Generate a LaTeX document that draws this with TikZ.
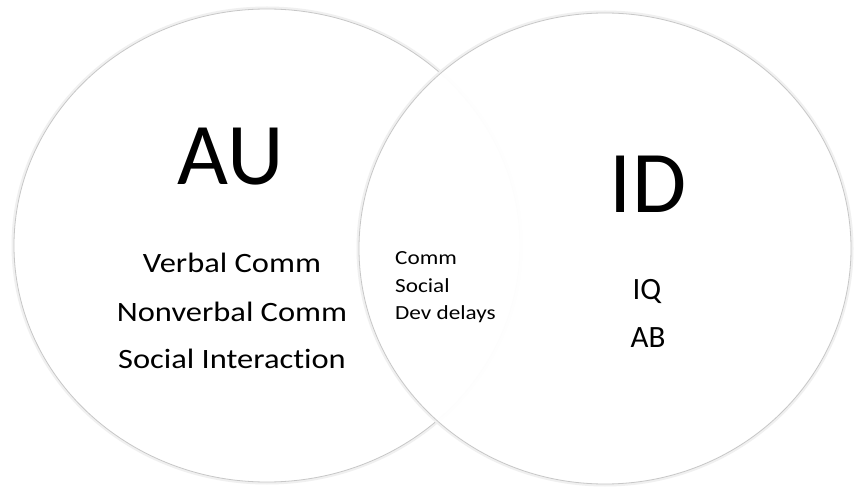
\documentclass[tikz,border=0pt]{standalone}
\usepackage{fontspec}
\setmainfont{Carlito}[Ligatures={NoCommon,NoRare}]
\newfontfamily\widefont{Carlito}[FakeStretch=1.16,Ligatures={NoCommon,NoRare}]
\begin{document}
\begin{tikzpicture}[x=1pt,y=-1pt,
  setcircle/.style={fill=white,draw=black!22,line width=0.8pt},
  halo/.style={draw=black!6,line width=3pt},
  title/.style={font=\fontsize{88}{88}\selectfont,anchor=base,inner sep=0pt},
  item/.style={font=\widefont\fontsize{28}{28}\selectfont,anchor=base,inner sep=0pt},
  shared/.style={font=\widefont\fontsize{20}{20}\selectfont,anchor=base west,inner sep=0pt},
  iditem/.style={font=\fontsize{31}{31}\selectfont,anchor=base,inner sep=0pt}]
\useasboundingbox (0,0) rectangle (855,489);
\fill[white] (0,0) rectangle (855,489);

% left set
\draw[halo] (267,245.5) ellipse [x radius=254, y radius=237.5];
\draw[setcircle] (267,245.5) ellipse [x radius=253, y radius=236.5];

% right set, nearly opaque so the left outline shows faintly through it
\draw[halo] (605,248.5) ellipse [x radius=247, y radius=236.5];
\draw[setcircle,fill opacity=0.97] (605,248.5) ellipse [x radius=246, y radius=235.5];

% labels
\node[title] (au) at (231,185) {AU};
\node[title] (id) at (648,213) {ID};

\node[item] (verbal) at (232,273) {Verbal Comm};
\node[item] (nonverbal) at (232,322) {Nonverbal Comm};
\node[item] (interaction) at (232,368) {Social Interaction};

\node[shared] (comm) at (395,265) {Comm};
\node[shared] (social) at (395,293) {Social};
\node[shared] (dev) at (395,320) {Dev delays};

\node[iditem] (iq) at (647,300) {IQ};
\node[iditem] (ab) at (648,348) {AB};
\end{tikzpicture}
\end{document}
